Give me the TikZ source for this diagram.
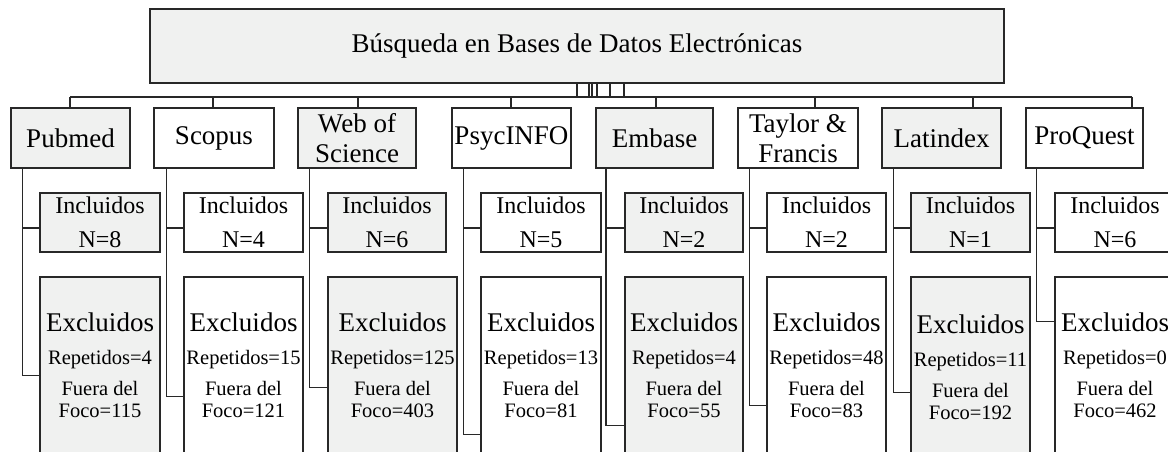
\documentclass[tikz,border=0pt]{standalone}
\usepackage{fontspec}
\setmainfont{Liberation Serif}
\definecolor{boxgray}{RGB}{240,241,240}
\definecolor{lncol}{RGB}{40,40,40}
\begin{document}
\begin{tikzpicture}[x=1pt,y=-1pt]
\tikzset{
 ln/.style={draw=lncol, line width=1.4pt},
 gbox/.style={ln, fill=boxgray, inner sep=0pt},
 wbox/.style={ln, fill=white, inner sep=0pt},
 dbtext/.style={font=\fontsize{27}{30}\selectfont, align=center},
 inctext/.style={font=\fontsize{24}{26}\selectfont, inner sep=0pt},
 exctext/.style={font=\fontsize{27}{30}\selectfont, inner sep=0pt},
 smalltext/.style={font=\fontsize{20.5}{22}\selectfont, inner sep=0pt, align=center},
}
\useasboundingbox (0,0) rectangle (1168,452);
\clip (0,0) rectangle (1168,452);
\fill[white] (0,0) rectangle (1168,452);

% top box
\node[gbox, minimum width=854pt, minimum height=74pt, font=\fontsize{27}{30}\selectfont] (top) at (577,46) {Búsqueda en Bases de Datos Electrónicas};
\foreach \x in {577,589,592,597,610,624} \draw[ln] (\x,83) -- (\x,97);

% bus
\coordinate (b1) at (70,97);
\coordinate (b2) at (213,97);
\coordinate (b3) at (358,97);
\coordinate (b4) at (511,97);
\coordinate (b5) at (656,97);
\coordinate (b6) at (815,97);
\coordinate (b7) at (973,97);
\coordinate (b8) at (1132,97);
\draw[ln] (b1) -- (b8);

% database boxes
\node[gbox, minimum width=119pt, minimum height=60pt, dbtext] (db1) at (70.5,138) {Pubmed};
\node[wbox, minimum width=120pt, minimum height=60pt, dbtext] (db2) at (214,138) {Scopus};
\node[gbox, minimum width=118pt, minimum height=60pt, dbtext] (db3) at (357,138) {Web of\\Science};
\node[wbox, minimum width=119pt, minimum height=60pt, dbtext] (db4) at (511.5,138) {PsycINFO};
\node[gbox, minimum width=117pt, minimum height=60pt, dbtext] (db5) at (654.5,138) {Embase};
\node[wbox, minimum width=120pt, minimum height=60pt, dbtext] (db6) at (798,138) {Taylor \&\\Francis};
\node[gbox, minimum width=119pt, minimum height=60pt, dbtext] (db7) at (941.5,138) {Latindex};
\node[wbox, minimum width=117pt, minimum height=60pt, dbtext] (db8) at (1084.5,138) {ProQuest};

\foreach \i in {1,...,8} \draw[ln] (b\i) -- (b\i |- db\i.north);

% Incluidos boxes
\node[gbox, minimum width=120pt, minimum height=59pt] (inc1) at (100,222.5) {};
\node[wbox, minimum width=119pt, minimum height=59pt] (inc2) at (243.5,222.5) {};
\node[gbox, minimum width=118pt, minimum height=59pt] (inc3) at (387,222.5) {};
\node[wbox, minimum width=120pt, minimum height=59pt] (inc4) at (541,222.5) {};
\node[gbox, minimum width=118pt, minimum height=59pt] (inc5) at (684,222.5) {};
\node[wbox, minimum width=119pt, minimum height=59pt] (inc6) at (826.5,222.5) {};
\node[gbox, minimum width=119pt, minimum height=59pt] (inc7) at (970.5,222.5) {};
\node[wbox, minimum width=120pt, minimum height=59pt] (inc8) at (1115,222.5) {};

% Excluidos boxes
\node[gbox, minimum width=120pt, minimum height=193pt] (exc1) at (100,373.5) {};
\node[wbox, minimum width=119pt, minimum height=193pt] (exc2) at (243.5,373.5) {};
\node[gbox, minimum width=129pt, minimum height=193pt] (exc3) at (392.5,373.5) {};
\node[wbox, minimum width=120pt, minimum height=193pt] (exc4) at (541,373.5) {};
\node[gbox, minimum width=118pt, minimum height=193pt] (exc5) at (684,373.5) {};
\node[wbox, minimum width=119pt, minimum height=193pt] (exc6) at (826.5,373.5) {};
\node[gbox, minimum width=119pt, minimum height=193pt] (exc7) at (970.5,373.5) {};
\node[wbox, minimum width=120pt, minimum height=193pt] (exc8) at (1115,373.5) {};

% connectors
\foreach \i/\s/\d in {1/12/99, 2/13/120, 3/12/111, 4/12/158, 5/10.5/149, 6/12/129, 7/12/116, 8/11/45} {
  \draw[ln] ([xshift=\s pt]db\i.south west) |- ([yshift=-5.5pt]inc\i.west);
  \draw[ln] ([xshift=\s pt]db\i.south west) |- ([yshift=-\d pt]exc\i.north west);
}

% texts
\foreach \i/\n/\r/\f in {1/8/4/115, 2/4/15/121, 3/6/125/403, 4/5/13/81, 5/2/4/55, 6/2/48/83, 7/1/11/192, 8/6/0/462} {
  \node[inctext] at ([yshift=-12.5pt]inc\i.north) {Incluidos};
  \node[inctext] at ([yshift=-47pt]inc\i.north) {N=\n};
}
\foreach \i/\r/\f in {1/4/115, 2/15/121, 3/125/403, 4/13/81, 5/4/55, 6/48/83, 8/0/462} {
  \node[exctext] at ([yshift=-46pt]exc\i.north) {Excluidos};
  \node[smalltext] at ([yshift=-83pt]exc\i.north) {Repetidos=\r};
  \node[smalltext] at ([yshift=-123pt]exc\i.north) {Fuera del\\Foco=\f};
}
\node[exctext] at ([yshift=-48pt]exc7.north) {Excluidos};
\node[smalltext] at ([yshift=-85pt]exc7.north) {Repetidos=11};
\node[smalltext] at ([yshift=-125pt]exc7.north) {Fuera del\\Foco=192};
\end{tikzpicture}
\end{document}
